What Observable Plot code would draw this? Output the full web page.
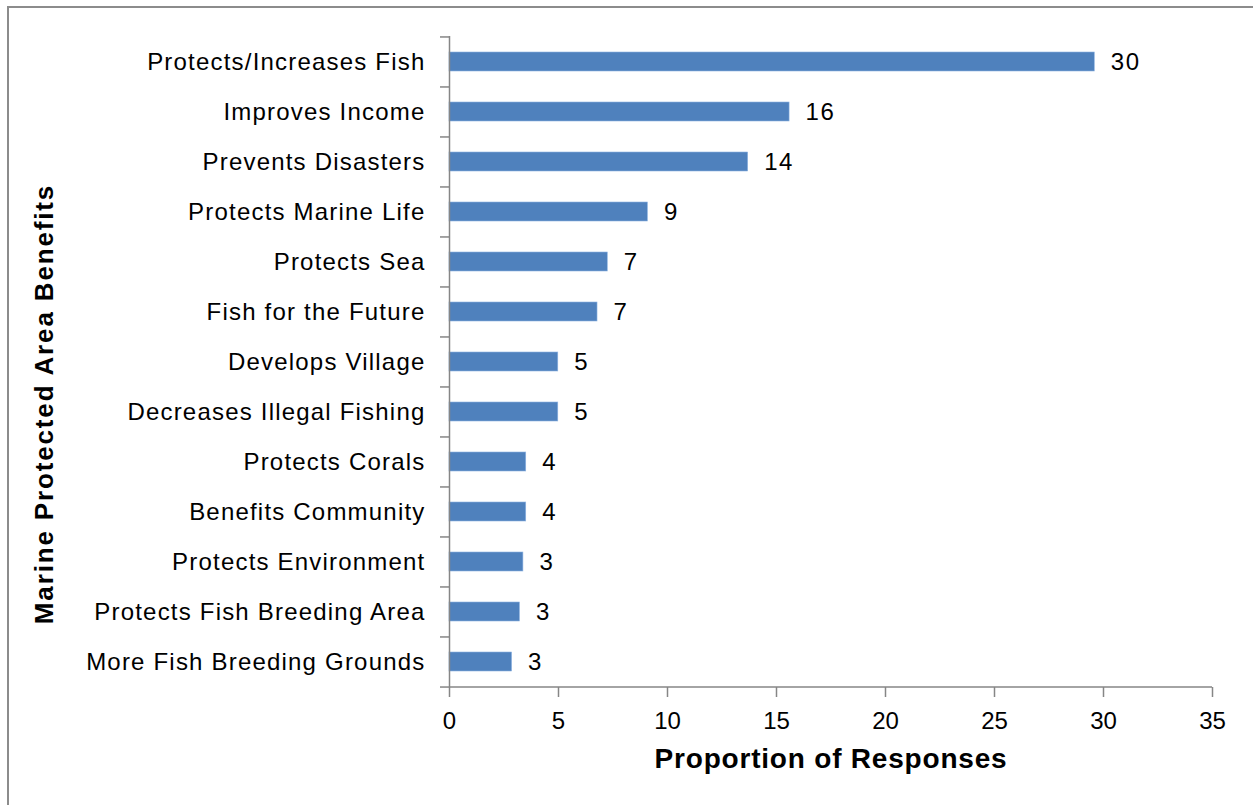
<!DOCTYPE html>
<html>
<head>
<meta charset="utf-8">
<script src="https://cdn.jsdelivr.net/npm/d3@7"></script>
<script src="https://cdn.jsdelivr.net/npm/@observablehq/plot@0.6"></script>
<style>
  html, body { margin: 0; padding: 0; background: #fff; overflow: hidden; }
  #wrap { position: relative; width: 1253px; height: 805px; }
  #border { position: absolute; left: 7px; top: 6px; width: 1300px; height: 900px;
            border-left: 2px solid #8c8c8c; border-top: 2px solid #8c8c8c; }
  #chart { position: absolute; left: 0; top: 0; }
  g[aria-label="y-axis tick label"] text { letter-spacing: 1.2px; }
  text[aria-label="value-label"] { letter-spacing: 1.5px; }
  text[aria-label="x-title"] { letter-spacing: 0.8px; }
  text[aria-label="y-title"] { letter-spacing: 1.85px; }
</style>
</head>
<body>
<div id="wrap"><div id="border"></div><div id="chart"></div></div>
<script>
const categories = [
  "Protects/Increases Fish", "Improves Income", "Prevents Disasters",
  "Protects Marine Life", "Protects Sea", "Fish for the Future",
  "Develops Village", "Decreases Illegal Fishing", "Protects Corals",
  "Benefits Community", "Protects Environment", "Protects Fish Breeding Area",
  "More Fish Breeding Grounds"
];
const values = [29.6, 15.6, 13.7, 9.1, 7.26, 6.79, 4.99, 4.99, 3.52, 3.52, 3.39, 3.23, 2.87];
const valueLabels = ["30", "16", "14", "9", "7", "7", "5", "5", "4", "4", "3", "3", "3"];
const xTicks = [0, 5, 10, 15, 20, 25, 30, 35];
const xTitle = "Proportion of Responses";
const yTitle = "Marine Protected Area Benefits";

const data = categories.map((c, i) => ({cat: c, value: values[i], label: valueLabels[i]}));

const W = 1253, H = 805, ml = 449, mr = 41, mt = 36, mb = 118;
const step = (H - mt - mb) / categories.length;
const unitsPerPx = 35 / (W - ml - mr);
const axisColor = "#868686";
const font = "Liberation Sans, Arial, sans-serif";

const chart = Plot.plot({
  width: W, height: H,
  marginLeft: ml, marginRight: mr, marginTop: mt, marginBottom: mb,
  style: {fontFamily: font, color: "#000", background: "transparent"},
  x: {domain: [0, 35], ticks: xTicks},
  y: {domain: categories, paddingInner: 0.62, paddingOuter: 0.31},
  marks: [
    Plot.barX(data, {x: "value", y: "cat", fill: "#4F81BD", stroke: "#8db3e2", strokeWidth: 0.6}),
    Plot.ruleX([0], {stroke: axisColor, strokeWidth: 1.5}),
    Plot.ruleY([categories[categories.length - 1]], {dy: step / 2, stroke: axisColor, strokeWidth: 1.5}),
    Plot.ruleY(categories, {y: d => d, x1: -9 * unitsPerPx, x2: 0, dy: -step / 2, stroke: axisColor, strokeWidth: 1.5}),
    Plot.ruleY([categories[categories.length - 1]], {y: d => d, x1: -9 * unitsPerPx, x2: 0, dy: step / 2, stroke: axisColor, strokeWidth: 1.5}),
    Plot.axisX({ticks: xTicks, tickSize: 10, tickPadding: 14, stroke: axisColor, strokeWidth: 1.5,
                fontSize: 24, fill: "#000", label: null}),
    Plot.axisY({tickSize: 0, tickPadding: 24, fontSize: 24, fill: "#000", label: null}),
    Plot.text(data, {x: "value", y: "cat", text: "label", textAnchor: "start", dx: 16,
                     fontSize: 24, fill: "#000", ariaLabel: () => "value-label"}),
    Plot.text([xTitle], {frameAnchor: "bottom", textAnchor: "middle", lineAnchor: "middle", dy: 72,
                         fontSize: 28, fontWeight: "bold", fill: "#000", ariaLabel: () => "x-title"}),
    Plot.text([yTitle], {frameAnchor: "left", textAnchor: "middle", lineAnchor: "middle", rotate: -90, dx: -405, dy: 42,
                         fontSize: 26, fontWeight: "bold", fill: "#000", ariaLabel: () => "y-title"})
  ]
});
document.getElementById("chart").appendChild(chart);
</script>
</body>
</html>
